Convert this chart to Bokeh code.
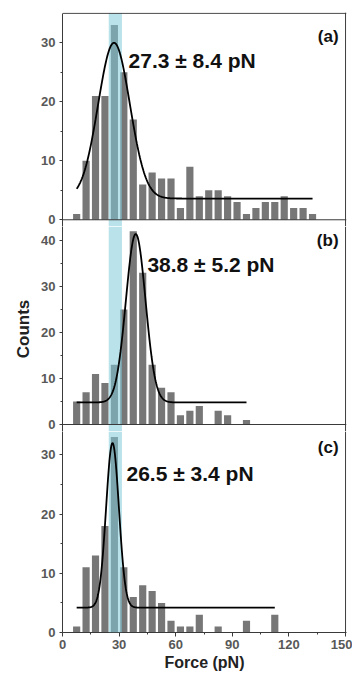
import numpy as np
from bokeh.plotting import figure
from bokeh.layouts import column
from bokeh.models import Range1d, FixedTicker, BoxAnnotation, Span, Label
from bokeh.embed import file_html
from bokeh.resources import INLINE

# ---------------- data ----------------
bins_a = [7.5, 12.5, 17.5, 22.5, 27.5, 32.5, 37.5, 42.5, 47.5, 52.5, 57.5, 62.5, 67.5,
          72.5, 77.5, 82.5, 87.5, 92.5, 97.5, 102.5, 107.5, 112.5, 117.5, 122.5, 127.5, 132.5]
counts_a = [1, 10, 21, 21, 33, 25, 17, 6, 8, 7, 7, 2, 9,
            4, 5, 5, 4, 3, 1, 2, 3, 3, 4, 2, 2, 1]

bins_b = [7.5, 12.5, 17.5, 22.5, 27.5, 32.5, 37.5, 42.5, 47.5, 52.5, 57.5, 62.5, 67.5,
          72.5, 82.5, 87.5, 97.5]
counts_b = [5, 7, 11, 9, 13, 25, 42, 33, 13, 8, 7, 2, 3,
            4, 3, 2, 1]

bins_c = [7.5, 12.5, 17.5, 22.5, 27.5, 32.5, 37.5, 42.5, 47.5, 52.5, 57.5, 62.5, 67.5,
          72.5, 82.5, 97.5, 112.5]
counts_c = [1, 11, 13, 18, 33, 11, 6, 8, 7, 5, 2, 1, 1,
            3, 1, 2, 3]

# Gaussian fits: centre, sigma, baseline, amplitude, fit range
fit_a = dict(xc=27.3, sigma=8.4, y0=3.6, A=26.4, x0=7.5, x1=132.5)
fit_b = dict(xc=38.8, sigma=5.2, y0=4.8, A=36.6, x0=7.5, x1=97.5)
fit_c = dict(xc=26.5, sigma=3.4, y0=4.2, A=27.8, x0=7.5, x1=112.5)

labels_fit = ["27.3 \u00b1 8.4 pN", "38.8 \u00b1 5.2 pN", "26.5 \u00b1 3.4 pN"]
panel_tags = ["(a)", "(b)", "(c)"]

x_ticks = [0, 30, 60, 90, 120, 150]
x_minor = [15, 45, 75, 105, 135]
y_ticks_a = [0, 10, 20, 30]
y_minor_a = [5, 15, 25]
y_ticks_b = [0, 10, 20, 30, 40]
y_minor_b = [5, 15, 25, 35]
y_ticks_c = [0, 10, 20, 30]
y_minor_c = [5, 15, 25]

band = (24.5, 31.5)

# ---------------- style ----------------
BAR = "#777777"
FRAME = "#3a3a3a"
TICKLAB = "#585858"
FONT = "Liberation Sans"

xr = Range1d(0, 150.5)


def gauss(f):
    x = np.linspace(f["x0"], f["x1"], 400)
    y = f["y0"] + f["A"] * np.exp(-(x - f["xc"]) ** 2 / (2 * f["sigma"] ** 2))
    return x, y


def make_panel(height, yr, ticks, minor, bins, counts, fit, txt, txt_xy, tag, tag_y,
               top_border, bottom_border, show_x=False, ylabel=None, top_line=False):
    p = figure(width=352, height=height, x_range=xr, y_range=Range1d(*yr),
               output_backend="svg", toolbar_location=None,
               min_border_left=62, min_border_right=6,
               min_border_top=top_border, min_border_bottom=bottom_border)
    p.outline_line_color = None
    p.grid.visible = False
    p.background_fill_color = "white"
    p.border_fill_color = "white"

    # y axis
    ya = p.yaxis[0]
    ya.ticker = FixedTicker(ticks=ticks, minor_ticks=minor)
    ya.axis_line_color = FRAME
    ya.major_tick_line_color = FRAME
    ya.minor_tick_line_color = FRAME
    ya.major_tick_in = 0
    ya.major_tick_out = 3
    ya.minor_tick_in = 0
    ya.minor_tick_out = 2
    ya.major_label_standoff = 4
    ya.major_label_text_font = FONT
    ya.major_label_text_font_style = "bold"
    ya.major_label_text_font_size = "13px"
    ya.major_label_text_color = TICKLAB
    if ylabel:
        ya.axis_label = ylabel
        ya.axis_label_text_font = FONT
        ya.axis_label_text_font_style = "bold"
        ya.axis_label_text_font_size = "17px"
        ya.axis_label_text_color = "#222222"
        ya.axis_label_standoff = 5

    xa = p.xaxis[0]
    if show_x:
        xa.ticker = FixedTicker(ticks=x_ticks, minor_ticks=x_minor)
        xa.axis_line_color = FRAME
        xa.major_tick_line_color = FRAME
        xa.minor_tick_line_color = FRAME
        xa.major_tick_in = 0
        xa.major_tick_out = 4
        xa.minor_tick_in = 0
        xa.minor_tick_out = 2
        xa.major_label_standoff = 3
        xa.major_label_text_font = FONT
        xa.major_label_text_font_style = "bold"
        xa.major_label_text_font_size = "13px"
        xa.major_label_text_color = TICKLAB
        xa.axis_label = "Force (pN)"
        xa.axis_label_text_font = FONT
        xa.axis_label_text_font_style = "bold"
        xa.axis_label_text_font_size = "16px"
        xa.axis_label_text_color = "#222222"
        xa.axis_label_standoff = 2
    else:
        xa.visible = False

    p.vbar(x=bins, top=counts, width=3.8, fill_color=BAR, line_color=None)

    p.add_layout(BoxAnnotation(left=band[0], right=band[1],
                               top=35 if top_line else None,
                               fill_color="#80cad9", fill_alpha=0.55, line_alpha=0))

    fx, fy = gauss(fit)
    r = p.line(fx, fy, line_color="black", line_width=1.8)
    r.level = "overlay"

    p.add_layout(Label(x=txt_xy[0], y=txt_xy[1], text=txt, text_font=FONT,
                       text_font_style="bold", text_font_size="21px",
                       text_color="#111111", text_baseline="alphabetic"))
    p.add_layout(Label(x=146.3, y=tag_y, text=tag, text_font=FONT,
                       text_font_style="bold", text_font_size="17px",
                       text_color="#111111", text_align="right",
                       text_baseline="alphabetic"))

    p.add_layout(Span(location=150, dimension="height", line_color=FRAME, line_width=1))
    if not show_x:
        p.add_layout(Span(location=0, dimension="width", line_color=FRAME, line_width=1))
    if top_line:
        p.add_layout(Span(location=35, dimension="width", line_color=FRAME, line_width=1))
    return p


ya_a = (-1.14, 35.14)
pa = make_panel(226, ya_a, y_ticks_a, y_minor_a, bins_a, counts_a, fit_a,
                labels_fit[0], (35.0, 27.0), panel_tags[0], 31.0, 12, 0, top_line=True)
pa.yaxis[0].bounds = (ya_a[0], 35)
pb = make_panel(205, (-1.52, 43.04), y_ticks_b, y_minor_b, bins_b, counts_b, fit_b,
                labels_fit[1], (45.0, 34.8), panel_tags[1], 40.0, 0, 0, ylabel="Counts")
pc = make_panel(244, (0, 33.95), y_ticks_c, y_minor_c, bins_c, counts_c, fit_c,
                labels_fit[2], (33.9, 26.8), panel_tags[2], 31.2, 0, 43, show_x=True)

layout = column(pa, pb, pc, spacing=0)
open("out.html", "w").write(file_html(layout, INLINE))
